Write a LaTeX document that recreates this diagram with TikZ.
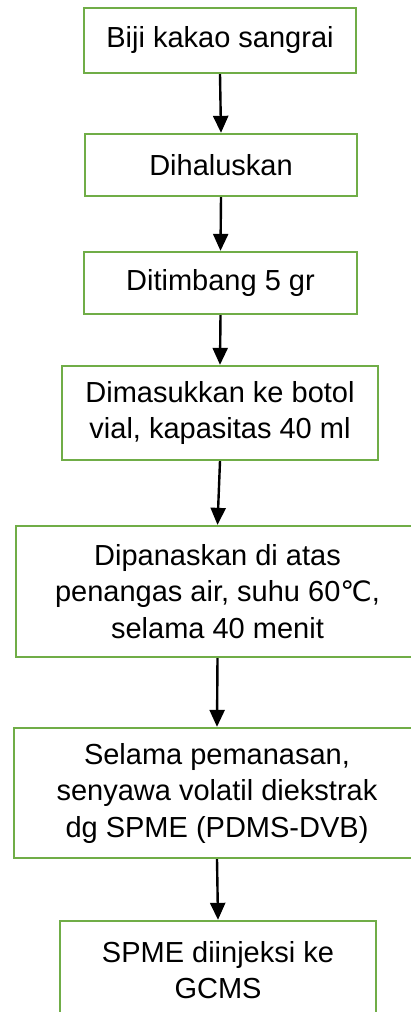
\documentclass[tikz,border=0pt]{standalone}
\usepackage{fontspec}
\setmainfont{Liberation Sans}
\newfontfamily\symfont{DejaVu Sans}
\usetikzlibrary{arrows.meta}
\definecolor{boxgreen}{RGB}{112,173,71}
\tikzset{
  stepbox/.style={draw=boxgreen, line width=2.3pt, fill=white, align=center, inner sep=0pt,
    font={\fontsize{29}{36.5}\selectfont}, text=black},
  flowarrow/.style={line width=2.4pt, draw=black, -{Triangle[length=17pt,width=15pt]}}
}
\begin{document}
\begin{tikzpicture}[x=1pt,y=-1pt]
\useasboundingbox (0,0) rectangle (411,1012);
\clip (0,0) rectangle (411,1012);
\fill[white] (0,0) rectangle (411,1012);
\node[stepbox, minimum width=272pt, minimum height=65pt] (b1) at (220,40.5) {Biji kakao sangrai};
\node[stepbox, minimum width=272pt, minimum height=62pt] (b2) at (221,165) {Dihaluskan};
\node[stepbox, minimum width=273pt, minimum height=62pt] (b3) at (220.5,283) {Ditimbang 5 gr};
\node[stepbox, minimum width=316pt, minimum height=94pt] (b4) at (220,413) {Dimasukkan ke botol\\vial, kapasitas 40 ml};
\node[stepbox, minimum width=403pt, minimum height=131pt] (b5) at (217.5,591.5) {Dipanaskan di atas\\penangas air, suhu 60{\symfont\fontsize{28}{36.5}\selectfont ℃},\\selama 40 menit};
\node[stepbox, minimum width=406pt, minimum height=130pt] (b6) at (217,793) {Selama pemanasan,\\senyawa volatil diekstrak\\dg SPME (PDMS-DVB)};
\node[stepbox, minimum width=316pt, minimum height=98pt] (b7) at (218,970) {SPME diinjeksi ke\\GCMS};
\draw[flowarrow] (b1.south) -- (b2.north);
\draw[flowarrow] (b2.south) -- (b3.north);
\draw[flowarrow] (b3.south) -- (b4.north);
\draw[flowarrow] (b4.south) -- (b5.north);
\draw[flowarrow] (b5.south) -- (b6.north);
\draw[flowarrow] (b6.south) -- (b7.north);
\end{tikzpicture}
\end{document}
